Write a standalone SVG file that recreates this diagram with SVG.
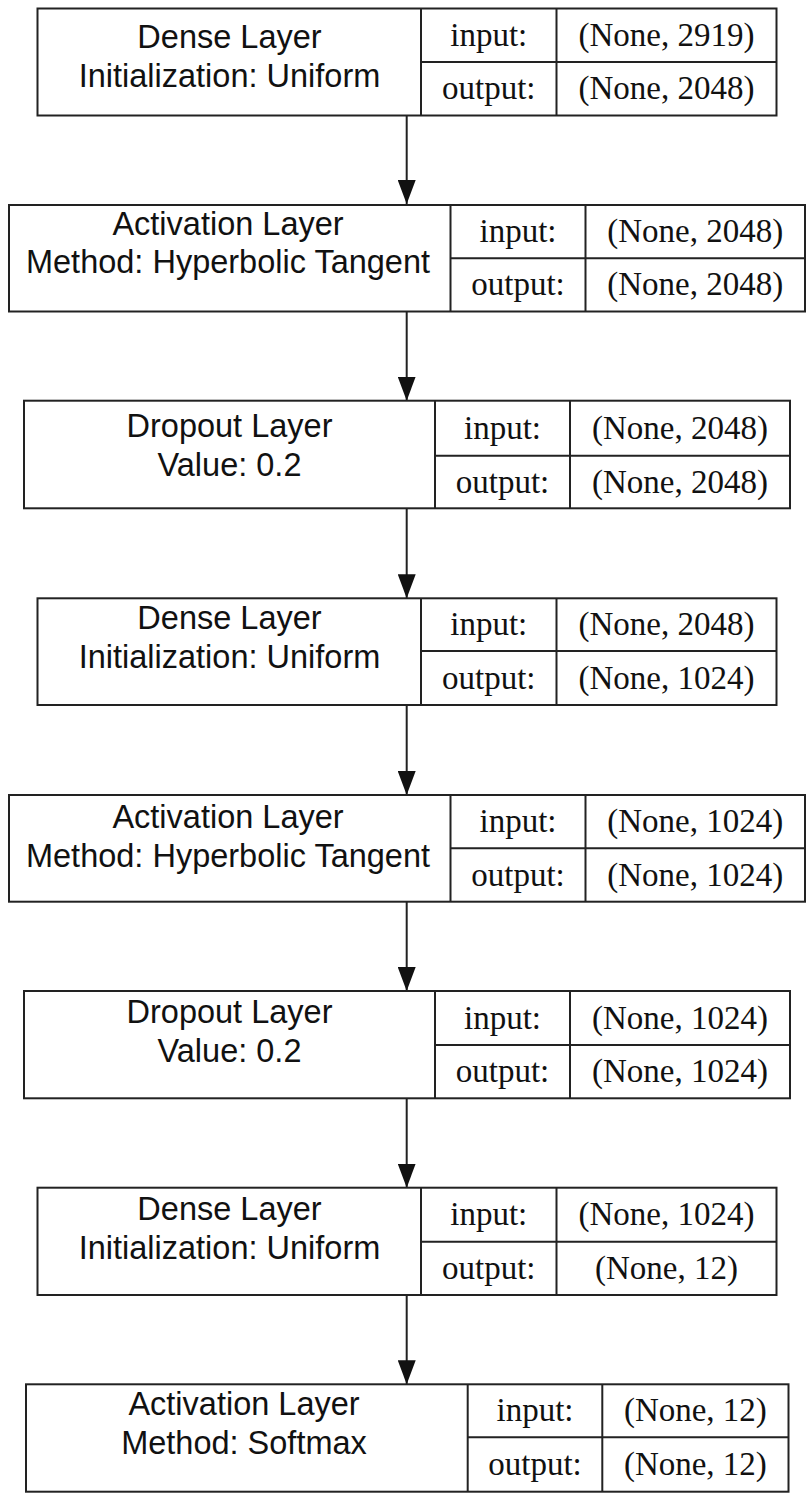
<svg xmlns="http://www.w3.org/2000/svg" width="807" height="1494" viewBox="0 0 807 1494">
<style>
.box{fill:#fff;stroke:#222;stroke-width:2}
.ln{stroke:#222;stroke-width:2;fill:none}
.s{font-family:"Liberation Sans",Arial,sans-serif;font-size:32.5px;fill:#111;text-anchor:middle}
.t{font-family:"Liberation Serif","Times New Roman",serif;font-size:33px;fill:#111;text-anchor:middle}
.edge{stroke:#222;stroke-width:2;fill:none;marker-end:url(#arr)}
</style>
<defs>
<marker id="arr" markerUnits="userSpaceOnUse" markerWidth="24" markerHeight="18" refX="24" refY="9" orient="auto">
<path d="M0,0 L24,9 L0,18 z" fill="#111"/>
</marker>
</defs>
<rect width="807" height="1494" fill="#fff"/>
<g id="connectors">
<line class="edge" x1="406.7" y1="115.5" x2="406.7" y2="204"/>
<line class="edge" x1="406.7" y1="311.5" x2="406.7" y2="400.7"/>
<line class="edge" x1="406.7" y1="508.3" x2="406.7" y2="598.3"/>
<line class="edge" x1="406.7" y1="705" x2="406.7" y2="795"/>
<line class="edge" x1="406.7" y1="901.7" x2="406.7" y2="991"/>
<line class="edge" x1="406.7" y1="1098.3" x2="406.7" y2="1187.7"/>
<line class="edge" x1="406.7" y1="1295" x2="406.7" y2="1384.3"/>
</g>
<g id="node1">
<rect class="box" x="37.5" y="8.5" width="739" height="107"/>
<path class="ln" d="M421,8.5V115.5M556.5,8.5V115.5M421,62H776.5"/>
<text class="s" x="229.5" y="48.3">Dense Layer</text>
<text class="s" x="229.5" y="87.3">Initialization: Uniform</text>
<text class="t" x="488.75" y="45.75">input:</text>
<text class="t" x="488.75" y="99.25">output:</text>
<text class="t" x="666.5" y="45.75">(None, 2919)</text>
<text class="t" x="666.5" y="99.25">(None, 2048)</text>
</g>
<g id="node2">
<rect class="box" x="9" y="205" width="796" height="106.5"/>
<path class="ln" d="M450.5,205V311.5M585.5,205V311.5M450.5,258.3H805"/>
<text class="s" x="228" y="235">Activation Layer</text>
<text class="s" x="228" y="273.3">Method: Hyperbolic Tangent</text>
<text class="t" x="518" y="242.2">input:</text>
<text class="t" x="518" y="295.4">output:</text>
<text class="t" x="695.25" y="242.2">(None, 2048)</text>
<text class="t" x="695.25" y="295.4">(None, 2048)</text>
</g>
<g id="node3">
<rect class="box" x="24" y="400.7" width="766" height="107.6"/>
<path class="ln" d="M435,400.7V508.3M570,400.7V508.3M435,455.7H790"/>
<text class="s" x="229.5" y="436.7">Dropout Layer</text>
<text class="s" x="229.5" y="476">Value: 0.2</text>
<text class="t" x="502.5" y="438.7">input:</text>
<text class="t" x="502.5" y="492.5">output:</text>
<text class="t" x="680" y="438.7">(None, 2048)</text>
<text class="t" x="680" y="492.5">(None, 2048)</text>
</g>
<g id="node4">
<rect class="box" x="37.5" y="598.3" width="739" height="106.7"/>
<path class="ln" d="M421,598.3V705M556.5,598.3V705M421,651H776.5"/>
<text class="s" x="229.5" y="629.3">Dense Layer</text>
<text class="s" x="229.5" y="668.3">Initialization: Uniform</text>
<text class="t" x="488.75" y="635.2">input:</text>
<text class="t" x="488.75" y="688.5">output:</text>
<text class="t" x="666.5" y="635.2">(None, 2048)</text>
<text class="t" x="666.5" y="688.5">(None, 1024)</text>
</g>
<g id="node5">
<rect class="box" x="9" y="795" width="796" height="106.7"/>
<path class="ln" d="M450.5,795V901.7M585.5,795V901.7M450.5,848.3H805"/>
<text class="s" x="228" y="828.3">Activation Layer</text>
<text class="s" x="228" y="866.5">Method: Hyperbolic Tangent</text>
<text class="t" x="518" y="832.2">input:</text>
<text class="t" x="518" y="885.5">output:</text>
<text class="t" x="695.25" y="832.2">(None, 1024)</text>
<text class="t" x="695.25" y="885.5">(None, 1024)</text>
</g>
<g id="node6">
<rect class="box" x="24" y="991" width="766" height="107.3"/>
<path class="ln" d="M435,991V1098.3M570,991V1098.3M435,1045H790"/>
<text class="s" x="229.5" y="1023.3">Dropout Layer</text>
<text class="s" x="229.5" y="1062.3">Value: 0.2</text>
<text class="t" x="502.5" y="1028.5">input:</text>
<text class="t" x="502.5" y="1082.2">output:</text>
<text class="t" x="680" y="1028.5">(None, 1024)</text>
<text class="t" x="680" y="1082.2">(None, 1024)</text>
</g>
<g id="node7">
<rect class="box" x="37.5" y="1187.7" width="739" height="107.3"/>
<path class="ln" d="M421,1187.7V1295M556.5,1187.7V1295M421,1241.7H776.5"/>
<text class="s" x="229.5" y="1220">Dense Layer</text>
<text class="s" x="229.5" y="1259">Initialization: Uniform</text>
<text class="t" x="488.75" y="1225.2">input:</text>
<text class="t" x="488.75" y="1278.9">output:</text>
<text class="t" x="666.5" y="1225.2">(None, 1024)</text>
<text class="t" x="666.5" y="1278.9">(None, 12)</text>
</g>
<g id="node8">
<rect class="box" x="26" y="1384.3" width="762.5" height="107.4"/>
<path class="ln" d="M467.7,1384.3V1491.7M602.3,1384.3V1491.7M467.7,1437.3H788.5"/>
<text class="s" x="244" y="1415">Activation Layer</text>
<text class="s" x="244" y="1454">Method: Softmax</text>
<text class="t" x="535" y="1421.3">input:</text>
<text class="t" x="535" y="1475">output:</text>
<text class="t" x="695.4" y="1421.3">(None, 12)</text>
<text class="t" x="695.4" y="1475">(None, 12)</text>
</g>
</svg>
